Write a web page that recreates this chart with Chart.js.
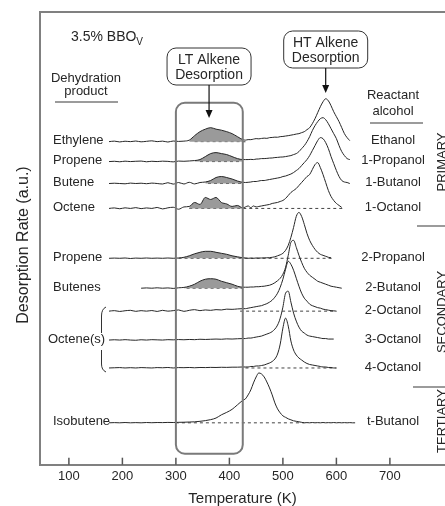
<!DOCTYPE html>
<html>
<head>
<meta charset="utf-8">
<script src="https://cdn.jsdelivr.net/npm/chart.js@4.4.1/dist/chart.umd.min.js"></script>
<style>
  html, body { margin: 0; padding: 0; background: #fff; overflow: hidden; }
  canvas { display: block; }
</style>
</head>
<body>
<canvas id="tpdChart" width="445" height="506"></canvas>
<script>
// temperature grid (K) shared by all traces
const tempK = [175,185,195,205,215,225,235,245,255,265,275,285,295,305,315,325,335,345,355,365,375,385,395,405,415,425,
  430,435,440,445,450,455,460,465,470,475,480,485,490,495,500,505,510,515,520,525,530,535,540,545,550,555,560,565,570,575,
  580,585,590,595,600,605,610,615,620,625,630,635];

// desorption signal above each trace's baseline (a.u.)
const ethanol = [0,0.5,-0.3,0.4,0,0.6,-0.2,0.3,0.8,0,0.5,-0.4,0.6,0.2,0.5,1.5,6,10,12.5,14,12.5,11.5,10,8,5,2,
  1.5,2,2,2.5,3,2.8,3.2,3.5,3.3,4, 4.2,4.5,4.4,5,5.2,5.6,6,6.5,7,7.6, 8,9,10,12,14,18,23,29,35,40, 43,41,36,30,25,20,14,8,4,1, null,null];
const propanol1 = [0,0.3,-0.2,0.4,0,0.3,0.5,-0.2,0.3,0,0.4,0.2,-0.3,0.5,0.3,0.6,1,2,5,8,9,8,7,5,3,2,
  2,2,2.2,2,2.5,2.6,3,3,3.2,3.5, 3.6,4,4.2,4.5,4.6,5,5.5,6,7,8, 10,13,16,20,25,31,36,40,43,44, 42,38,33,28,23,16,10,6,3,2, null,null];
const butanol1 = [0,0.3,0,-0.3,0.4,0,0.3,-0.2,0.4,0,-0.5,0.8,-0.6,1,-0.5,1.2,-0.4,1,1.5,3,6,7,6,4.5,2.5,1.2,
  1,1.2,1.5,2,2,2.5,3,3,3.5,4, 4.5,5,5.5,6,7,7.5,8.5,9.5,11,13, 15,18,21,24,28,33,38,43,46,45, 41,35,27,20,13,7,3,1.5,1,0, null,null];
const octanol1 = [0,0.5,-0.3,0.6,0,0.8,-0.2,0.5,0,1,-0.5,0.6,1.2,-0.8,1.5,2,6,4,11,9,11,6,4.5,2,3,0.5,
  1.5,2.5,0.8,2.5,1.5,2,2.5,3,3.5,4, 5,5.5,6,7,8,10,13,16,18,20, 23,26,29,32,34,39,44,46,41,34, 26,18,12,8,5,3,1, null,null,null,null,null];
const propanol2 = [0,0.2,0,0.3,-0.2,0.2,0,0.3,0,0.2,0,0.3,0,0.3,1,2.5,4.5,6,7,7,6,5,4,2.5,1.5,0.5,
  0.3,0,0.2,0,0.3,0.2,0.3,0.4,0.5,0.6, 1,1.5,2.5,3.5,5,8,13,21,31,42, 46,42,34,25,18,13,9,6,4,3, 2,1,0.5, null,null,null,null,null,null,null,null,null];
const butanol2 = [null,null,null,null,null,null,0,0.3,0,0.4,0,0.3,-0.2,0.4,0.8,2,4,7,9,9.5,9,7,5.5,4,2,1,
  1,1,1.2,1.2,1.5,1.5,1.8,2,2.5,3, 4,5.5,7.5,10,14,21,33,46,48,41, 33,26,20,16,13,11,9,7,6,5, 4,3,2,1.5,1,0.5,0, null,null,null,null,null];
const octanol2 = [0,0.5,-0.3,0.4,0.8,-0.2,0.5,0,0.6,-0.3,0.8,0,0.5,1.2,-0.2,0.8,1.5,0.5,1.2,0.8,1.5,1.2,2,1.8,2.2,2.5,
  2.5,3,3.5,4,4.5,5,5.5,6.5,7.5,9, 11,14,18,24,32,42,50,47,41,33, 25,18,13,10,7,5.5,4.5,3.5,3,2, 1.5,1,0.5,0.3,0, null,null,null,null,null,null,null];
const octanol3 = [0,0.3,0,0.4,0,-0.2,0.3,0,0.4,0.2,0,0.4,0.2,0.5,0.3,0.6,0.4,0.8,0.6,0.8,1,0.8,1.2,1,1.3,1.5,
  1.5,2,2,2.5,3,3.5,4,5,6,7, 8.5,11,15,22,33,47,49,38,27,19, 13,9,7,5,4,3.5,3,2.5,2,1.5, 1.5,1,1,1, null,null,null,null,null,null,null,null];
const octanol4 = [0,0.2,0.4,0,0.3,0,0.4,0.2,0,0.4,0.2,0.5,0,0.4,0.3,0.5,0.2,0.5,0.4,0.6,0.5,0.7,0.6,0.8,0.8,1,
  1,1,1.5,1.5,2,2,2.5,3,4,5, 6.5,9,14,24,40,50,42,27,18,13, 10,8,6,4.5,3.5,3,2.5,2,1.5,1, 1,0.5,0.5,0,0, null,null,null,null,null,null,null];
const butanolT = [0,0.2,0,0.3,0,0.2,0,0.3,0.1,0.3,0.2,0.4,0.3,0.5,0.6,0.8,1,1.5,2.2,3.2,4.8,8,10.5,13.5,18,22.5,
  24,28,33,40,46,50,49,46,41,35, 28,20,14,10,7,5.5,4,3,2,1.5, 1,0.5,0,0.2,0,0.3,0,0.2,0,0.3, 0,0.2,0,0.3,0,0.2,0,0.2,0,0.2, 0,0];

const traces = [ethanol, propanol1, butanol1, octanol1, propanol2, butanol2, octanol2, octanol3, octanol4, butanolT];
const offsets = [324, 304, 282, 257, 207, 177, 154, 125, 97, 42];
const alcohols = ['Ethanol','1-Propanol','1-Butanol','1-Octanol','2-Propanol','2-Butanol','2-Octanol','3-Octanol','4-Octanol','t-Butanol'];
const products = ['Ethylene','Propene','Butene','Octene','Propene','Butenes','','Octene(s)','','Isobutene'];
// LT alkene peaks (shaded) and dashed baselines, temperature ranges (K)
const ltShade = [[325,425],[335,425],[355,425],[325,425],[305,425],[315,425],null,null,null,null];
const dashBase = [[335,430],[345,425],[360,425],[325,612],[305,592],[320,425],[420,600],null,[430,600],[300,540]];
const tickTemps = [100, 200, 300, 400, 500, 600, 700];
const ltWindow = [300, 425];

const FONT = '"Liberation Sans", Arial, Helvetica, sans-serif';
const INK = '#262626';

const datasets = [];
traces.forEach((vals, i) => {
  const pts = [];
  tempK.forEach((t, j) => { if (vals[j] !== null) pts.push({ x: t, y: offsets[i] + vals[j] }); });
  datasets.push({ data: pts, borderColor: INK, borderWidth: 1, pointRadius: 0,
    cubicInterpolationMode: 'monotone', fill: false, order: 0 });
  if (ltShade[i]) {
    const [lo, hi] = ltShade[i];
    datasets.push({ data: pts.filter(p => p.x >= lo && p.x <= hi), borderWidth: 0, pointRadius: 0,
      cubicInterpolationMode: 'monotone', backgroundColor: '#9a9a9a', fill: { value: offsets[i] }, order: 1 });
  }
  if (dashBase[i]) {
    datasets.push({ data: [{ x: dashBase[i][0], y: offsets[i] }, { x: dashBase[i][1], y: offsets[i] }],
      borderColor: '#444', borderWidth: 1, borderDash: [3, 3], pointRadius: 0, fill: false, order: 2 });
  }
});

function text(ctx, s, x, y, size, align) {
  ctx.font = size + 'px ' + FONT;
  ctx.textAlign = align || 'center';
  ctx.textBaseline = 'middle';
  ctx.fillText(s, x, y);
}
function seg(ctx, x1, y1, x2, y2) {
  ctx.beginPath(); ctx.moveTo(x1, y1); ctx.lineTo(x2, y2); ctx.stroke();
}
function callout(ctx, cx, top, lines, tipY) {
  const w = 84, h = 37;
  ctx.strokeStyle = '#333'; ctx.lineWidth = 1;
  ctx.beginPath(); ctx.roundRect(cx - w / 2, top, w, h, 9); ctx.stroke();
  ctx.fillStyle = INK;
  text(ctx, lines[0], cx, top + 12, 14);
  text(ctx, lines[1], cx, top + 27, 14);
  ctx.strokeStyle = '#111'; ctx.lineWidth = 1.2;
  seg(ctx, cx, top + h, cx, tipY - 7);
  ctx.fillStyle = '#111';
  ctx.beginPath(); ctx.moveTo(cx - 3.5, tipY - 8); ctx.lineTo(cx + 3.5, tipY - 8); ctx.lineTo(cx, tipY); ctx.closePath(); ctx.fill();
}

const decor = {
  id: 'decor',
  afterDraw(chart) {
    const { ctx, chartArea: a, scales: { x, y } } = chart;
    ctx.save();
    // frame (left and top)
    ctx.strokeStyle = '#808080'; ctx.lineWidth = 2;
    ctx.beginPath(); ctx.moveTo(a.left, a.bottom); ctx.lineTo(a.left, a.top); ctx.lineTo(chart.width, a.top); ctx.stroke();
    // inward tick marks
    ctx.strokeStyle = '#555'; ctx.lineWidth = 1.5;
    x.ticks.forEach(t => { const px = x.getPixelForValue(t.value); seg(ctx, px, a.bottom, px, a.bottom - 7); });

    // LT window box
    const bx0 = x.getPixelForValue(ltWindow[0]), bx1 = x.getPixelForValue(ltWindow[1]);
    const by0 = y.getPixelForValue(363), by1 = y.getPixelForValue(11);
    ctx.strokeStyle = '#7a7a7a'; ctx.lineWidth = 2;
    ctx.beginPath(); ctx.roundRect(bx0, by0, bx1 - bx0, by1 - by0, 9); ctx.stroke();

    // callouts
    callout(ctx, x.getPixelForValue(362), 48, ['LT Alkene', 'Desorption'], 118);
    callout(ctx, x.getPixelForValue(580), 31, ['HT Alkene', 'Desorption'], 93);

    ctx.fillStyle = INK;
    // sample label
    text(ctx, '3.5% BBO', 71, 37, 14, 'left');
    ctx.font = '14px ' + FONT;
    const w = ctx.measureText('3.5% BBO').width;
    text(ctx, 'V', 71 + w, 42, 10, 'left');

    // column headers
    text(ctx, 'Dehydration', 86, 78, 13);
    text(ctx, 'product', 86, 91, 13);
    text(ctx, 'Reactant', 393, 95, 13);
    text(ctx, 'alcohol', 393, 111, 13);
    ctx.strokeStyle = '#7a7a7a'; ctx.lineWidth = 1.5;
    seg(ctx, 55, 102, 118, 102);
    seg(ctx, 370, 123, 423, 123);
    seg(ctx, 417, 226, chart.width, 226);
    seg(ctx, 413, 387, chart.width, 387);

    // trace labels
    offsets.forEach((off, i) => {
      const py = y.getPixelForValue(off) - 1;
      if (products[i]) text(ctx, products[i], products[i] === 'Octene(s)' ? 48 : 53, py, 13, 'left');
      text(ctx, alcohols[i], 393, py, 13);
    });

    // bracket for octenes
    ctx.strokeStyle = '#333'; ctx.lineWidth = 1;
    ctx.beginPath(); ctx.moveTo(106, 307); ctx.quadraticCurveTo(101.5, 309, 101.5, 316); ctx.lineTo(101.5, 333); ctx.stroke();
    ctx.beginPath(); ctx.moveTo(101.5, 350); ctx.lineTo(101.5, 364); ctx.quadraticCurveTo(101.5, 370, 106, 372); ctx.stroke();

    // rotated group labels
    [['PRIMARY', 162], ['SECONDARY', 312], ['TERTIARY', 421]].forEach(([s, cy]) => {
      ctx.save(); ctx.translate(446, cy); ctx.rotate(-Math.PI / 2);
      ctx.font = '13px ' + FONT; ctx.textAlign = 'center'; ctx.textBaseline = 'alphabetic';
      ctx.fillText(s, 0, 0); ctx.restore();
    });

    // y axis title
    ctx.save(); ctx.translate(24, 245); ctx.rotate(-Math.PI / 2);
    text(ctx, 'Desorption Rate (a.u.)', 0, 0, 16);
    ctx.restore();
    ctx.restore();
  }
};

new Chart(document.getElementById('tpdChart'), {
  type: 'line',
  data: { datasets },
  options: {
    responsive: false,
    animation: false,
    devicePixelRatio: 1,
    layout: { padding: { left: 40, top: 12, right: 0, bottom: 0 } },
    plugins: { legend: { display: false }, tooltip: { enabled: false } },
    scales: {
      x: {
        type: 'linear', min: 46, max: 803,
        afterBuildTicks: s => { s.ticks = tickTemps.map(v => ({ value: v })); },
        grid: { display: false, drawTicks: false },
        border: { display: true, color: '#808080', width: 2 },
        ticks: { color: INK, font: { family: FONT, size: 13, lineHeight: 1.1 }, padding: 5, maxRotation: 0, autoSkip: false },
        title: { display: true, text: 'Temperature (K)', color: INK, font: { family: FONT, size: 15, lineHeight: 1 }, padding: { top: 2, bottom: 0 } }
      },
      y: { display: false, min: 0, max: 454 }
    }
  },
  plugins: [decor]
});
</script>
</body>
</html>
